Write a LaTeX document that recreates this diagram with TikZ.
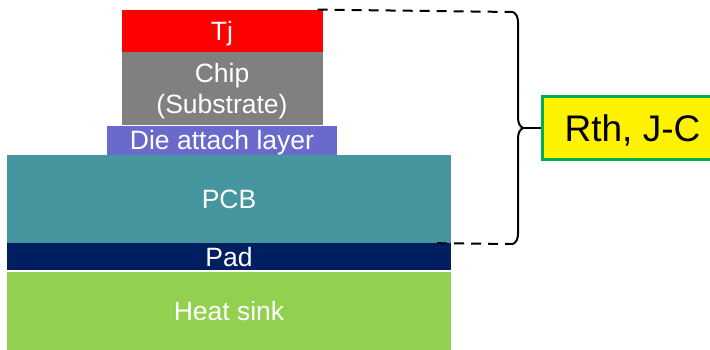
\documentclass[tikz,border=0pt]{standalone}
\usepackage{fontspec}
\setmainfont{Liberation Sans}
\usetikzlibrary{positioning, decorations.pathreplacing}
\definecolor{tjred}{RGB}{255,0,0}
\definecolor{chipgray}{RGB}{128,128,128}
\definecolor{dieblue}{RGB}{106,106,204}
\definecolor{pcbteal}{RGB}{70,150,160}
\definecolor{padnavy}{RGB}{0,31,96}
\definecolor{sinkgreen}{RGB}{146,208,80}
\definecolor{boxgreen}{RGB}{0,176,80}
\tikzstyle{layer} = [rectangle, inner sep=0pt, text centered, text=white, text depth=0pt, font=\fontsize{26.5}{31}\selectfont]
\tikzstyle{result} = [rectangle, inner sep=0pt, minimum width=180, minimum height=63, text centered, text depth=0pt, draw=boxgreen, line width=3pt, fill=yellow, font=\fontsize{37}{40}\selectfont]
\tikzstyle{dashline} = [line width=2pt, dash pattern=on 10pt off 7pt]
\tikzstyle{brace} = [line width=2pt, decorate, decoration={brace, amplitude=10pt}]
\tikzstyle{link} = [line width=2pt]

\begin{document}
\begin{tikzpicture}
[x=1pt, y=-1pt]
\useasboundingbox (0,0) rectangle (710,349);

\node (pcb) [layer, fill=pcbteal, minimum width=444, minimum height=88] at (229,199) {PCB};
\node (pad) [layer, fill=padnavy, minimum width=444, minimum height=27, below=0pt of pcb] {Pad};
\node (sink) [layer, fill=sinkgreen, minimum width=444, minimum height=78, below=1pt of pad] {Heat sink};
\node (die) [layer, fill=dieblue, minimum width=230, minimum height=29, above=0pt of pcb, xshift=-7pt] {Die attach layer};
\node (chip) [layer, fill=chipgray, minimum width=201, minimum height=73, above=0pt of die, align=center] {Chip\\(Substrate)};
\node (tj) [layer, fill=tjred, minimum width=201, minimum height=42, above=0pt of chip] {Tj};
\node (rth) [result, anchor=west] at (541,128) {Rth, J-C};

\coordinate (bt) at (513,12);
\coordinate (bb) at (513,244);
\coordinate (tip) at (523,128);

\draw [dashline] ([xshift=-5pt]tj.north east) -- (bt);
\draw [dashline] ([xshift=-14pt]pcb.south east) -- (bb);
\draw [brace] (bt) -- (bb);
\draw [link] (tip) -- (rth);

\end{tikzpicture}
\end{document}
